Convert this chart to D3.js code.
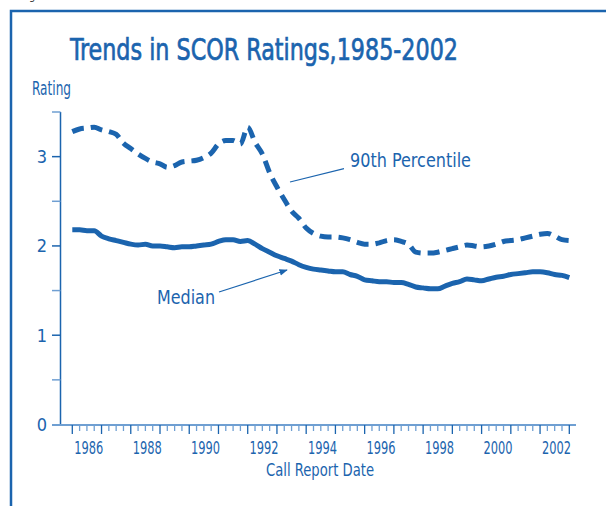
<!DOCTYPE html>
<html>
<head>
<meta charset="utf-8">
<script src="https://cdn.jsdelivr.net/npm/d3@7"></script>
<style>
  body { margin: 0; background: #fff; }
  text { font-family: "Liberation Sans Narrow", "DejaVu Sans Condensed", "Roboto Condensed", sans-serif; fill: #1b64ae; }
</style>
</head>
<body>
<script>
// quarterly call report dates, mid-1985 through mid-2002
var startDate = 1985.5;
var quarterCount = 69;
var yearLabels = [1986, 1988, 1990, 1992, 1994, 1996, 1998, 2000, 2002];
var ratingTicks = [0, 1, 2, 3];

var median = [2.18, 2.18, 2.17, 2.17, 2.11, 2.08, 2.06, 2.04, 2.02, 2.01,
  2.02, 2.00, 2.00, 1.99, 1.98, 1.99, 1.99, 2.00, 2.01, 2.02,
  2.05, 2.07, 2.07, 2.05, 2.06, 2.02, 1.97, 1.93, 1.89, 1.86,
  1.83, 1.79, 1.76, 1.74, 1.73, 1.72, 1.71, 1.71, 1.68, 1.66,
  1.62, 1.61, 1.60, 1.60, 1.59, 1.59, 1.57, 1.54, 1.53, 1.52,
  1.52, 1.55, 1.58, 1.60, 1.63, 1.62, 1.61, 1.63, 1.65, 1.66,
  1.68, 1.69, 1.70, 1.71, 1.71, 1.70, 1.68, 1.67, 1.645];

var pct90 = [3.28, 3.31, 3.32, 3.33, 3.30, 3.28, 3.25, 3.15, 3.09, 3.03,
  2.98, 2.94, 2.92, 2.88, 2.90, 2.94, 2.95, 2.96, 2.99, 3.04,
  3.14, 3.18, 3.18, 3.14, 3.33, 3.16, 3.03, 2.82, 2.66, 2.52,
  2.39, 2.31, 2.20, 2.14, 2.11, 2.10, 2.10, 2.09, 2.07, 2.04,
  2.02, 2.02, 2.035, 2.06, 2.07, 2.05, 2.02, 1.93, 1.92, 1.92,
  1.93, 1.95, 1.97, 1.99, 2.01, 2.00, 1.99, 2.00, 2.02, 2.05,
  2.06, 2.07, 2.09, 2.11, 2.13, 2.14, 2.11, 2.07, 2.06];

var blue = "#1b64ae";
var lightBlue = "#6f9fd2";

var svgWidth = 606, svgHeight = 506;
var svg = d3.select("body").append("svg")
  .attr("width", svgWidth)
  .attr("height", svgHeight);

// frame
svg.append("path")
  .attr("d", "M11,506 V11 H606")
  .attr("fill", "none")
  .attr("stroke", blue)
  .attr("stroke-width", 2.5);

// descender of the caption above, cut by the page edge
svg.append("text")
  .attr("x", 29).attr("y", 0)
  .style("fill", "#333")
  .attr("font-size", 11)
  .text("g");

var dates = d3.range(quarterCount).map(function(i) { return startDate + i / 4; });

var x = d3.scaleLinear().domain([startDate, startDate + (quarterCount - 1) / 4]).range([72.3, 569.3]);
var y = d3.scaleLinear().domain([0, 3.5]).range([424.5, 112]);

// title
svg.append("text")
  .attr("x", 264).attr("y", 60)
  .attr("text-anchor", "middle")
  .attr("font-size", 31)
  .attr("textLength", 388)
  .attr("lengthAdjust", "spacingAndGlyphs")
  .style("stroke", blue)
  .style("stroke-width", 0.7)
  .text("Trends in SCOR Ratings,1985-2002");

svg.append("text")
  .attr("x", 32).attr("y", 95)
  .attr("font-size", 19)
  .attr("textLength", 39)
  .attr("lengthAdjust", "spacingAndGlyphs")
  .text("Rating");

// y axis
svg.append("line")
  .attr("x1", 60.5).attr("x2", 60.5)
  .attr("y1", y(0)).attr("y2", y(3.5))
  .attr("stroke", blue).attr("stroke-width", 1.5);

svg.selectAll(".ytick")
  .data(d3.range(0.5, 3.51, 0.5))
  .enter().append("line")
  .attr("class", "ytick")
  .attr("x1", 52).attr("x2", 60.5)
  .attr("y1", function(d) { return y(d); })
  .attr("y2", function(d) { return y(d); })
  .attr("stroke", function(d) { return d % 1 === 0 ? blue : lightBlue; })
  .attr("stroke-width", 1.5);

svg.selectAll(".ylab")
  .data(ratingTicks)
  .enter().append("text")
  .attr("class", "ylab")
  .attr("x", 47).attr("y", function(d) { return y(d) + 6.5; })
  .attr("text-anchor", "end")
  .attr("font-size", 18)
  .text(function(d) { return d; });

// x axis
svg.append("line")
  .attr("x1", 52).attr("x2", 576)
  .attr("y1", 425).attr("y2", 425)
  .attr("stroke", lightBlue).attr("stroke-width", 2);

svg.selectAll(".xtick")
  .data(d3.range(quarterCount))
  .enter().append("line")
  .attr("class", "xtick")
  .attr("x1", function(i) { return x(dates[i]); })
  .attr("x2", function(i) { return x(dates[i]); })
  .attr("y1", 425)
  .attr("y2", function(i) { return i % 4 === 0 ? 434 : 431; })
  .attr("stroke", function(i) { return i % 4 === 0 ? blue : lightBlue; })
  .attr("stroke-width", 1.3);

svg.selectAll(".xlab")
  .data(yearLabels)
  .enter().append("text")
  .attr("class", "xlab")
  .attr("x", function(d) { return x(d + 0.06); })
  .attr("y", 454)
  .attr("text-anchor", "middle")
  .attr("font-size", 18)
  .attr("textLength", 29)
  .attr("lengthAdjust", "spacingAndGlyphs")
  .text(function(d) { return d; });

svg.append("text")
  .attr("x", 320).attr("y", 476)
  .attr("text-anchor", "middle")
  .attr("font-size", 18)
  .attr("textLength", 108)
  .attr("lengthAdjust", "spacingAndGlyphs")
  .text("Call Report Date");

// lines
var line = d3.line()
  .x(function(d, i) { return x(dates[i]); })
  .y(function(d) { return y(d); })
  .curve(d3.curveMonotoneX);

svg.append("path")
  .datum(pct90)
  .attr("d", line)
  .attr("fill", "none")
  .attr("stroke", blue)
  .attr("stroke-width", 5)
  .attr("stroke-dasharray", "12,7");

svg.append("path")
  .datum(median)
  .attr("d", line)
  .attr("fill", "none")
  .attr("stroke", blue)
  .attr("stroke-width", 5);

// annotations
svg.append("defs").append("marker")
  .attr("id", "arrow")
  .attr("viewBox", "0 0 10 10")
  .attr("refX", 9).attr("refY", 5)
  .attr("markerWidth", 7).attr("markerHeight", 7)
  .attr("orient", "auto")
  .append("path")
  .attr("d", "M0,1 L10,5 L0,9 Z")
  .attr("fill", blue);

svg.append("line")
  .attr("x1", 290).attr("y1", 182)
  .attr("x2", 344).attr("y2", 168.7)
  .attr("stroke", blue).attr("stroke-width", 1.2);

svg.append("text")
  .attr("x", 350).attr("y", 167)
  .attr("font-size", 20)
  .attr("textLength", 121)
  .attr("lengthAdjust", "spacingAndGlyphs")
  .text("90th Percentile");

svg.append("line")
  .attr("x1", 219).attr("y1", 292)
  .attr("x2", 287).attr("y2", 270)
  .attr("stroke", blue).attr("stroke-width", 1.2)
  .attr("marker-end", "url(#arrow)");

svg.append("text")
  .attr("x", 157).attr("y", 304)
  .attr("font-size", 20)
  .attr("textLength", 58)
  .attr("lengthAdjust", "spacingAndGlyphs")
  .text("Median");
</script>
</body>
</html>
